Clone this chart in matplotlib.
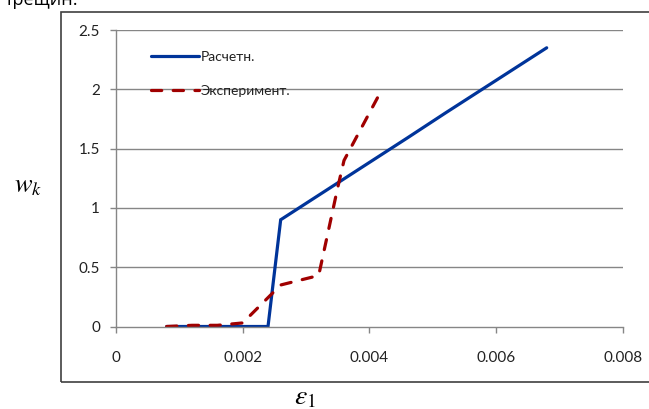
import matplotlib
matplotlib.use("Agg")
import matplotlib.pyplot as plt
from matplotlib.patches import Rectangle

# data
calc_x = [0.0008, 0.0024, 0.0026, 0.0036, 0.0046, 0.0052, 0.0068]
calc_y = [0.0, 0.0, 0.9, 1.245, 1.59, 1.8, 2.35]

exp_x = [0.0008, 0.0012, 0.0016, 0.0020, 0.0026, 0.0032, 0.0035, 0.0036, 0.00414]
exp_y = [0.0, 0.01, 0.01, 0.03, 0.35, 0.43, 1.17, 1.40, 1.94]

xticks = [0, 0.002, 0.004, 0.006, 0.008]
xtick_labels = ["0", "0.002", "0.004", "0.006", "0.008"]
yticks = [0, 0.5, 1, 1.5, 2, 2.5]
ytick_labels = ["0", "0.5", "1", "1.5", "2", "2.5"]

plt.rcParams['font.family'] = ['Lato', 'Open Sans', 'DejaVu Sans']
plt.rcParams['mathtext.fontset'] = 'stix'

fig = plt.figure(figsize=(6.49, 4.09), dpi=100)
ax = fig.add_axes([116 / 649, 1 - 326.5 / 409, 506.7 / 649, 296.5 / 409])

# outer chart frame (cut off on the right)
fig.patches.append(Rectangle((61 / 649, 1 - 382 / 409), 0.95, (382 - 12) / 409,
                             transform=fig.transFigure, fill=False,
                             edgecolor='#404040', linewidth=1.2))

ax.plot(calc_x, calc_y, color='#00349a', linewidth=2.3, label='Расчетн.',
        solid_capstyle='round', solid_joinstyle='miter')
ax.plot(exp_x, exp_y, color='#a00000', linewidth=2.3, label='Эксперимент.',
        dashes=(3.2, 3.6), dash_capstyle='round')

ax.set_xlim(0, 0.008)
ax.set_ylim(0, 2.5)
ax.set_xticks(xticks)
ax.set_xticklabels(xtick_labels)
ax.set_yticks(yticks)
ax.set_yticklabels(ytick_labels)

for y in yticks[1:]:
    ax.axhline(y, color='#868686', linewidth=1.0, zorder=0)

for s in ['top', 'right']:
    ax.spines[s].set_visible(False)
for s in ['left', 'bottom']:
    ax.spines[s].set_color('#868686')
    ax.spines[s].set_linewidth(1.0)

ax.tick_params(axis='x', direction='out', length=4, width=1, color='#868686',
               pad=14, labelsize=11, labelcolor='#222222')
ax.tick_params(axis='y', direction='out', length=4.5, width=1, color='#868686',
               pad=7, labelsize=11, labelcolor='#222222')

ax.legend(loc='upper left', bbox_to_anchor=(0.056, 0.952), frameon=False,
          fontsize=10, handlelength=3.4, handletextpad=0.15, labelspacing=1.55,
          borderpad=0, labelcolor='#222222')

fig.text(28 / 649, 1 - 186 / 409, r'$w_k$', fontsize=19, ha='center', va='center')
fig.text(305 / 649, 1 - 397 / 409, r'$\varepsilon_\mathit{1}$', fontsize=20,
         ha='center', va='center')
fig.text(5 / 649, 1 - 5 / 409, 'трещин.', fontsize=13, ha='left', va='baseline',
         family=['Open Sans', 'DejaVu Sans'])

fig.savefig('out.png', dpi=100)
